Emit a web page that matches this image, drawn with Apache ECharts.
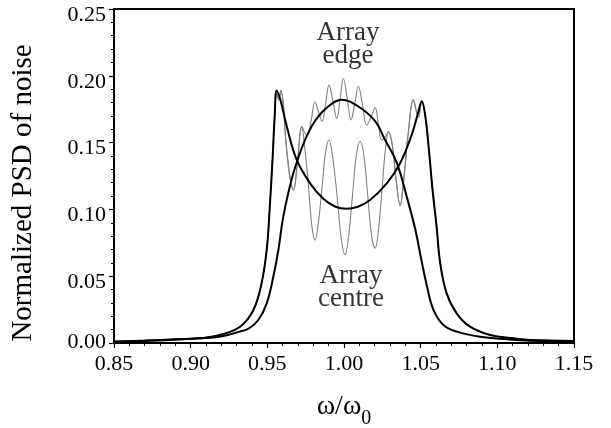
<!DOCTYPE html>
<html>
<head>
<meta charset="utf-8">
<script src="https://cdn.jsdelivr.net/npm/echarts@6/dist/echarts.min.js"></script>
<style>
html, body { margin: 0; padding: 0; background: #fff; }
#chart { width: 611px; height: 428px; }
</style>
</head>
<body>
<div id="chart"></div>
<script>
// smooth curve with the single central hump
const edgeSmoothX = [0.85, 0.87, 0.89, 0.905, 0.919, 0.932, 0.938, 0.9441, 0.9496, 0.9539, 0.9572, 0.960, 0.964, 0.968, 0.9746, 0.981, 0.9887, 0.9985, 1.0094, 1.0203, 1.0268, 1.0344, 1.0415, 1.0465, 1.0505, 1.054, 1.0583, 1.0648, 1.0736, 1.0887, 1.1062, 1.1214, 1.15];
const edgeSmoothY = [0.001, 0.0015, 0.0025, 0.0035, 0.0047, 0.0085, 0.011, 0.0172, 0.0297, 0.0496, 0.0696, 0.092, 0.114, 0.131, 0.152, 0.166, 0.176, 0.182, 0.177, 0.166, 0.152, 0.135, 0.107, 0.085, 0.062, 0.043, 0.025, 0.0135, 0.0085, 0.0047, 0.0028, 0.0017, 0.0012];

// smooth curve with the two side peaks
const centreSmoothX = [0.85, 0.87, 0.89, 0.906, 0.919, 0.9322, 0.9409, 0.9463, 0.9496, 0.9515, 0.9535, 0.9548, 0.9561, 0.9585, 0.9627, 0.9692, 0.9779, 0.9865, 0.9945, 1.0018, 1.009, 1.017, 1.0279, 1.0366, 1.0442, 1.0485, 1.0507, 1.053, 1.0555, 1.0578, 1.0605, 1.0627, 1.067, 1.0736, 1.0822, 1.0953, 1.1105, 1.1214, 1.15];
const centreSmoothY = [0.001, 0.0018, 0.0028, 0.0035, 0.006, 0.0122, 0.0247, 0.045, 0.07, 0.1, 0.14, 0.17, 0.189, 0.182, 0.162, 0.137, 0.1195, 0.108, 0.102, 0.1005, 0.102, 0.107, 0.1195, 0.1345, 0.156, 0.173, 0.181, 0.17, 0.143, 0.114, 0.086, 0.06, 0.037, 0.022, 0.0122, 0.006, 0.0035, 0.0022, 0.0015];

// thin rippled curve, upper branch
const edgeRippleX = [0.85, 0.87, 0.89, 0.906, 0.919, 0.9322, 0.9409, 0.9463, 0.9496, 0.9515, 0.9535, 0.9548, 0.9561, 0.9575, 0.9589, 0.9605, 0.9618, 0.9635, 0.9652, 0.967, 0.9697, 0.9724, 0.9742, 0.976, 0.9785, 0.9811, 0.9834, 0.9857, 0.988, 0.9902, 0.9928, 0.9953, 0.9975, 0.9996, 1.0021, 1.0046, 1.007, 1.0094, 1.0121, 1.0148, 1.0176, 1.0203, 1.0225, 1.0246, 1.0268, 1.029, 1.0315, 1.034, 1.0366, 1.039, 1.042, 1.0452, 1.0485, 1.0507, 1.053, 1.0555, 1.0578, 1.0605, 1.0627, 1.067, 1.0736, 1.0822, 1.0953, 1.1105, 1.1214, 1.15];
const edgeRippleY = [0.001, 0.0018, 0.0028, 0.0035, 0.006, 0.0122, 0.0247, 0.045, 0.07, 0.1, 0.14, 0.17, 0.187, 0.182, 0.189, 0.178, 0.155, 0.135, 0.121, 0.1145, 0.136, 0.162, 0.158, 0.155, 0.166, 0.1806, 0.173, 0.166, 0.179, 0.193, 0.181, 0.168, 0.183, 0.198, 0.183, 0.167, 0.179, 0.192, 0.178, 0.163, 0.169, 0.176, 0.163, 0.152, 0.154, 0.158, 0.148, 0.122, 0.103, 0.123, 0.158, 0.182, 0.169, 0.181, 0.17, 0.143, 0.114, 0.086, 0.06, 0.037, 0.022, 0.0122, 0.006, 0.0035, 0.0022, 0.0015];

// thin rippled curve, lower branch
const centreRippleX = [0.85, 0.87, 0.89, 0.906, 0.919, 0.9322, 0.9409, 0.9463, 0.9496, 0.9515, 0.9535, 0.9548, 0.9561, 0.9575, 0.9589, 0.9605, 0.9618, 0.9635, 0.9652, 0.967, 0.9697, 0.9724, 0.9745, 0.9768, 0.979, 0.9811, 0.9835, 0.9858, 0.988, 0.9902, 0.9925, 0.9955, 0.998, 1.0007, 1.003, 1.0055, 1.008, 1.0105, 1.013, 1.0155, 1.018, 1.0203, 1.0225, 1.0248, 1.027, 1.029, 1.0315, 1.034, 1.0366, 1.039, 1.042, 1.0452, 1.0485, 1.0507, 1.053, 1.0555, 1.0578, 1.0605, 1.0627, 1.067, 1.0736, 1.0822, 1.0953, 1.1105, 1.1214, 1.15];
const centreRippleY = [0.001, 0.0018, 0.0028, 0.0035, 0.006, 0.0122, 0.0247, 0.045, 0.07, 0.1, 0.14, 0.17, 0.187, 0.182, 0.189, 0.178, 0.155, 0.135, 0.121, 0.1145, 0.136, 0.162, 0.145, 0.118, 0.088, 0.077, 0.092, 0.118, 0.143, 0.152, 0.14, 0.11, 0.08, 0.066, 0.08, 0.11, 0.14, 0.151, 0.14, 0.11, 0.08, 0.071, 0.085, 0.115, 0.145, 0.158, 0.148, 0.122, 0.103, 0.123, 0.158, 0.182, 0.169, 0.181, 0.17, 0.143, 0.114, 0.086, 0.06, 0.037, 0.022, 0.0122, 0.006, 0.0035, 0.0022, 0.0015];

// text labels inside the plot (data coordinates)
const noteText = ['Array\nedge', 'Array\ncentre'];
const noteX = [1.0026, 1.0045];
const noteY = [0.2236, 0.0414];

function pairs(xs, ys) {
  return xs.map((x, i) => [x, ys[i]]);
}

const serif = 'Liberation Serif';
const tickFont = { fontFamily: serif, fontSize: 22, color: '#000' };
const chart = echarts.init(document.getElementById('chart'));

chart.setOption({
  backgroundColor: '#fff',
  animation: false,
  grid: {
    left: 114, right: 37, top: 9, bottom: 85,
    outerBoundsMode: 'none',
    show: true,
    borderColor: '#000',
    borderWidth: 2,
    backgroundColor: 'transparent'
  },
  xAxis: {
    type: 'value',
    min: 0.85, max: 1.15, interval: 0.05,
    name: '{m|ω/ω}{s|0}',
    nameLocation: 'middle',
    nameGap: 50,
    nameTextStyle: {
      rich: {
        m: { fontFamily: serif, fontSize: 28, color: '#000', lineHeight: 30, verticalAlign: 'top' },
        s: { fontFamily: serif, fontSize: 20, color: '#000', lineHeight: 36, verticalAlign: 'bottom' }
      }
    },
    axisLine: { lineStyle: { color: '#000', width: 2 } },
    axisTick: { length: 5, lineStyle: { color: '#000', width: 1.2 } },
    minorTick: { show: true, splitNumber: 5, length: 3, lineStyle: { color: '#000', width: 1 } },
    axisLabel: Object.assign({ margin: 10, formatter: v => v.toFixed(2) }, tickFont),
    splitLine: { show: false }
  },
  yAxis: {
    type: 'value',
    min: 0, max: 0.25, interval: 0.05,
    name: 'Normalized PSD of noise',
    nameLocation: 'middle',
    nameGap: 76,
    nameTextStyle: { fontFamily: serif, fontSize: 29, color: '#000', padding: [0, 34, 0, 0] },
    axisLine: { lineStyle: { color: '#000', width: 2 } },
    axisTick: { length: 5, lineStyle: { color: '#000', width: 1.2 } },
    minorTick: { show: true, splitNumber: 5, length: 3, lineStyle: { color: '#000', width: 1 } },
    axisLabel: Object.assign({
      margin: 8,
      // labels sit a little below their ticks, except the one at zero
      formatter: v => (v === 0 ? '{z|' : '{d|') + v.toFixed(2) + '}',
      rich: {
        d: Object.assign({ padding: [12, 0, 0, 0] }, tickFont),
        z: Object.assign({ padding: [0, 0, 2, 0] }, tickFont)
      }
    }, tickFont),
    splitLine: { show: false }
  },
  series: [
    {
      type: 'line', data: pairs(edgeRippleX, edgeRippleY),
      showSymbol: false, smooth: 0.4,
      lineStyle: { color: '#808080', width: 1.1 }
    },
    {
      type: 'line', data: pairs(centreRippleX, centreRippleY),
      showSymbol: false, smooth: 0.4,
      lineStyle: { color: '#808080', width: 1.1 }
    },
    {
      type: 'line', data: pairs(edgeSmoothX, edgeSmoothY),
      showSymbol: false, smooth: 0.4,
      lineStyle: { color: '#000', width: 2 }
    },
    {
      type: 'line', data: pairs(centreSmoothX, centreSmoothY),
      showSymbol: false, smooth: 0.4,
      lineStyle: { color: '#000', width: 2 }
    },
    {
      type: 'scatter', symbolSize: 0, silent: true,
      data: noteText.map((t, i) => ({ value: [noteX[i], noteY[i]], name: t })),
      label: {
        show: true, position: 'inside',
        formatter: p => p.name,
        fontFamily: serif, fontSize: 27, lineHeight: 23, color: '#000'
      }
    }
  ]
});
</script>
</body>
</html>
